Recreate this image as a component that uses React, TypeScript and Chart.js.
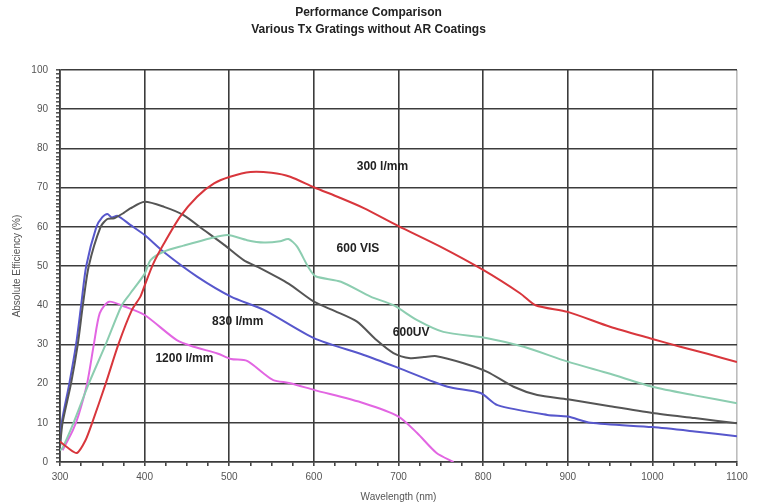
import React, { useEffect, useRef } from "react";
import { Chart, registerables } from "chart.js";

Chart.register(...registerables);

// ---- data ----
const titleLines = ["Performance Comparison", "Various Tx Gratings without AR Coatings"];
const xTitle = "Wavelength (nm)";
const yTitle = "Absolute Efficiency (%)";

const seriesNames = ["300 l/mm", "600 VIS", "600UV", "830 l/mm", "1200 l/mm"];

const wl300 = [300, 310, 320, 330, 338, 354, 369, 385, 395, 400, 410, 423, 442, 462, 482, 501, 525, 550, 572, 600, 630, 659, 700, 750, 800, 844, 862, 900, 950, 1000, 1033, 1065, 1100];
const eff300 = [5.2, 3.5, 2.3, 5.5, 10, 20, 30, 38.8, 42.2, 45, 50.5, 55.8, 62.6, 67.7, 71.1, 72.8, 74, 73.8, 72.8, 70.1, 67.5, 64.8, 60.2, 54.9, 49, 43, 40, 38.3, 34.5, 31.4, 29.4, 27.6, 25.5];

const wl600vis = [300, 303, 316, 334, 354, 373, 383, 400, 407, 423, 446, 478, 498, 521, 541, 560, 570, 580, 594, 602, 632, 667, 694, 722, 753, 805, 848, 900, 950, 1000, 1050, 1100];
const eff600vis = [3, 3.6, 10, 20, 30, 40, 43, 48, 51.5, 53.7, 55.2, 57.1, 57.9, 56.6, 56, 56.3, 56.9, 55, 49.5, 47.4, 46, 42.2, 40, 36.2, 33.2, 31.6, 29.4, 25.6, 22.5, 19.2, 17, 15];

const wl600uv = [300, 303, 313, 321, 327, 334, 348, 356, 364, 375, 383, 400, 423, 446, 470, 494, 517, 537, 570, 600, 625, 651, 674, 694, 714, 730, 745, 777, 805, 836, 864, 900, 950, 1000, 1050, 1100];
const eff600uv = [4, 10, 20, 30, 40, 50, 60, 62, 62.2, 63.5, 64.7, 66.4, 65.1, 63, 59.2, 55.4, 51.5, 49.4, 45.5, 40.9, 38.5, 35.8, 31.1, 27.8, 26.5, 26.8, 27, 25.2, 23, 19.2, 17.1, 16, 14.2, 12.5, 11.2, 9.9];

const wl830 = [300, 302, 311, 319, 325, 331, 343, 350, 356, 361, 368, 383, 400, 423, 462, 502, 541, 600, 659, 700, 758, 797, 817, 876, 900, 927, 1000, 1050, 1100];
const eff830 = [4, 10, 20, 30, 40, 50, 60, 62.5, 63.3, 62.4, 62.8, 60.5, 57.9, 53.5, 47.3, 42.2, 38.8, 31.6, 27.3, 24, 19.2, 17.6, 14.5, 12, 11.6, 10, 8.9, 7.8, 6.6];

const wl1200 = [303, 315, 322, 332, 340, 347, 358, 377, 400, 438, 458, 486, 502, 521, 540, 552, 572, 600, 659, 700, 722, 745, 765];
const eff1200 = [3, 8, 12, 20, 30, 38, 40.9, 39.6, 37.5, 31.1, 29.4, 27.7, 26.3, 25.8, 22.7, 20.9, 20.1, 18.4, 15, 11.6, 7.4, 2.3, 0];

// label anchors (wavelength, efficiency)
const labelWl = [681, 652, 715, 510, 447];
const labelEff = [75.3, 54.3, 32.9, 35.8, 26.3];

const colors = ["#d8363c", "#8ccdb0", "#555555", "#5757cc", "#e266e2"];

const toPoints = (xs: number[], ys: number[]) => xs.map((x, i) => ({ x, y: ys[i] }));

export default function App() {
  const ref = useRef<HTMLCanvasElement | null>(null);

  useEffect(() => {
    document.body.style.margin = "0";
    const canvas = ref.current;
    if (!canvas) return;

    const seriesData = [
      toPoints(wl300, eff300),
      toPoints(wl600vis, eff600vis),
      toPoints(wl600uv, eff600uv),
      toPoints(wl830, eff830),
      toPoints(wl1200, eff1200),
    ];

    const labelPlugin = {
      id: "curveLabels",
      afterDatasetsDraw(chart: any) {
        const { ctx, scales } = chart;
        ctx.save();
        ctx.font = "bold 12px 'Liberation Sans', Arial, sans-serif";
        ctx.fillStyle = "#222";
        ctx.textAlign = "center";
        ctx.textBaseline = "middle";
        seriesNames.forEach((name, i) => {
          ctx.fillText(name, scales.x.getPixelForValue(labelWl[i]), scales.y.getPixelForValue(labelEff[i]));
        });
        ctx.restore();
      },
    };

    const chart = new Chart(canvas, {
      type: "line",
      data: {
        datasets: seriesData.map((d, i) => ({
          label: seriesNames[i],
          data: d,
          borderColor: colors[i],
          backgroundColor: colors[i],
          borderWidth: 2,
          pointRadius: 0,
          tension: 0.25,
          fill: false,
        })),
      },
      options: {
        animation: false,
        responsive: false,
        devicePixelRatio: 1,
        layout: { padding: { left: 0, right: 25, top: 0, bottom: 0 } },
        plugins: {
          legend: { display: false },
          tooltip: { enabled: false },
          title: {
            display: true,
            text: titleLines,
            color: "#222",
            font: { family: "'Liberation Sans', Arial, sans-serif", size: 12, weight: "bold", lineHeight: 1.42 },
            padding: { top: 4.5, bottom: 31.5 },
          },
        },
        scales: {
          x: {
            type: "linear",
            min: 300,
            max: 1100,
            afterFit: (s: any) => {
              s.height = 41;
            },
            ticks: {
              stepSize: 25,
              autoSkip: false,
              maxTicksLimit: 1000,
              maxRotation: 0,
              padding: 5,
              color: "#555",
              font: { family: "'Liberation Sans', Arial, sans-serif", size: 10 },
              callback: (v: any) => (Number(v) % 100 === 0 ? String(v) : ""),
            },
            grid: {
              color: (c: any) => {
                const v = c.tick ? c.tick.value : 0;
                if (v % 100 !== 0) return "rgba(0,0,0,0)";
                if (v === 1100) return "#bdbdbd";
                return "#3c3c3c";
              },
              lineWidth: 1.6,
              tickColor: "#444",
              tickLength: 4,
              drawTicks: true,
            },
            border: { display: true, color: "#3c3c3c", width: 1.6 },
            title: {
              display: true,
              text: xTitle,
              color: "#555",
              font: { family: "'Liberation Sans', Arial, sans-serif", size: 10, lineHeight: 1.2 },
              padding: { top: 0, bottom: 0 },
            },
          },
          y: {
            type: "linear",
            min: 0,
            max: 100,
            afterFit: (s: any) => {
              s.width = 60;
            },
            ticks: {
              stepSize: 1,
              autoSkip: false,
              maxTicksLimit: 1000,
              padding: 8,
              color: "#555",
              font: { family: "'Liberation Sans', Arial, sans-serif", size: 10 },
              callback: (v: any) => (Number(v) % 10 === 0 ? String(v) : ""),
            },
            grid: {
              color: (c: any) => {
                const v = c.tick ? c.tick.value : 0;
                if (v % 10 !== 0) return "rgba(0,0,0,0)";
                return "#3c3c3c";
              },
              lineWidth: 1.6,
              tickColor: "#555",
              tickLength: 4,
              drawTicks: true,
            },
            border: { display: true, color: "#3c3c3c", width: 1.6 },
            title: {
              display: true,
              text: yTitle,
              color: "#555",
              font: { family: "'Liberation Sans', Arial, sans-serif", size: 10, lineHeight: 1.2 },
              padding: { top: 11, bottom: 0 },
            },
          },
        },
      },
      plugins: [labelPlugin],
    } as any);

    return () => chart.destroy();
  }, []);

  return (
    <div style={{ width: 762, height: 503, background: "#fff" }}>
      <canvas ref={ref} width={762} height={503} style={{ display: "block", width: 762, height: 503 }} />
    </div>
  );
}
